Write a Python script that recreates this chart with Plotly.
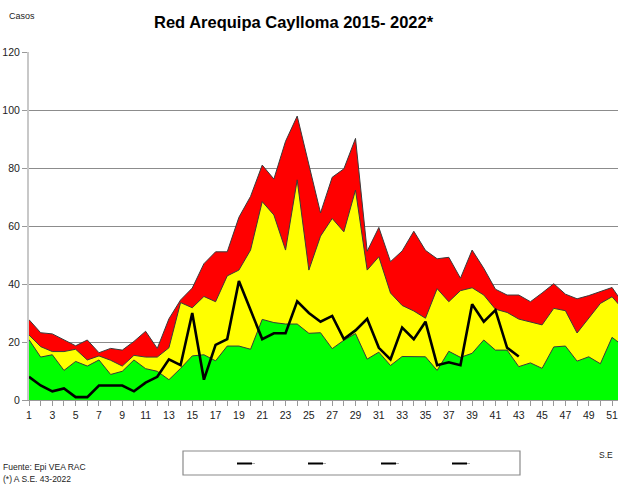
import plotly.graph_objects as go

weeks = list(range(1, 53))

# Endemic channel bands (upper limits), cases per epidemiological week
exito = [20.8, 14.8, 15.6, 10.2, 13.3, 11.7, 13.8, 8.8, 9.9, 13.8, 10.8, 9.9, 7.0,
         10.9, 15.2, 15.6, 13.5, 18.6, 18.6, 17.5, 27.8, 26.7, 26.2, 26.2, 23.0, 23.2,
         17.7, 20.6, 22.9, 14.1, 16.5, 11.9, 15.0, 14.9, 14.9, 10.2, 16.8, 14.7, 16.1,
         20.7, 17.2, 17.2, 11.5, 12.8, 10.9, 18.3, 18.6, 13.4, 14.9, 12.5, 21.6, 18.5]
seguridad = [22.4, 18.4, 16.7, 16.7, 17.5, 13.8, 15.2, 13.7, 11.7, 15.4, 14.8, 14.8, 18.0,
             33.6, 31.8, 35.7, 33.9, 42.8, 44.8, 51.7, 68.4, 63.8, 51.7, 75.9, 44.8, 56.5,
             62.6, 58.0, 72.4, 44.8, 49.4, 36.9, 32.6, 30.7, 28.2, 38.4, 33.9, 37.7, 38.7,
             36.2, 31.3, 30.2, 27.9, 26.8, 25.9, 31.6, 30.8, 23.1, 28.2, 33.3, 35.6, 31.0]
alarma = [27.7, 23.2, 22.8, 20.8, 18.7, 20.7, 16.3, 17.8, 17.2, 20.2, 23.7, 17.8, 28.0,
          34.5, 38.6, 47.0, 51.1, 51.1, 63.0, 70.2, 81.0, 76.2, 89.2, 97.9, 81.6, 64.5,
          76.8, 79.7, 90.2, 51.3, 59.5, 47.7, 51.4, 58.2, 51.6, 48.7, 49.2, 42.0, 51.7,
          45.4, 38.2, 36.2, 36.2, 33.9, 36.9, 40.1, 36.5, 34.9, 36.0, 37.4, 38.8, 33.0]
weeks_2022 = list(range(1, 44))
casos_2022 = [8, 5, 3, 4, 1, 1, 5, 5, 5, 3, 6, 8, 14, 12, 30, 7, 19, 21, 41, 31, 21,
              23, 23, 34, 30, 27, 29, 21, 24, 28, 18, 14, 25, 21, 27, 12, 13, 12, 33,
              27, 31, 18, 15]

y_ticks = [0, 20, 40, 60, 80, 100, 120]
x_ticktext = [str(w) if w % 2 == 1 else "" for w in weeks]

FONT = "Liberation Sans, Arial, sans-serif"
W, H = 618, 485
ML, MR, MT, MB = 29, 0, 52, 85
PW = W - ML - MR
PH = H - MT - MB

def px(xpix):
    return (xpix - ML) / PW

def py(ypix):
    return (H - MB - ypix) / PH

fig = go.Figure()
outline = dict(color="#3a3a3a", width=1)
fig.add_trace(go.Scatter(x=weeks, y=alarma, mode="lines", fill="tozeroy",
                         fillcolor="#FF0000", line=outline, name="Alarma"))
fig.add_trace(go.Scatter(x=weeks, y=seguridad, mode="lines", fill="tozeroy",
                         fillcolor="#FFFF00", line=outline, name="Seguridad"))
fig.add_trace(go.Scatter(x=weeks, y=exito, mode="lines", fill="tozeroy",
                         fillcolor="#00FF00", line=outline, name="Éxito"))
fig.add_trace(go.Scatter(x=weeks_2022, y=casos_2022, mode="lines",
                         line=dict(color="#000000", width=2.6), name="2022"))

shapes = []
# legend box
shapes.append(dict(type="rect", xref="paper", yref="paper",
                   x0=px(183), x1=px(520), y0=py(475), y1=py(451),
                   line=dict(color="#8a8a8a", width=1.2), fillcolor="white"))
for xs in [237, 308, 381, 452]:
    shapes.append(dict(type="line", xref="paper", yref="paper",
                       x0=px(xs), x1=px(xs + 15), y0=py(463.5), y1=py(463.5),
                       line=dict(color="#000000", width=2)))
    shapes.append(dict(type="line", xref="paper", yref="paper",
                       x0=px(xs + 15), x1=px(xs + 18), y0=py(463.5), y1=py(463.5),
                       line=dict(color="#aaaaaa", width=1)))

annotations = [
    dict(text="<b>Red Arequipa Caylloma 2015- 2022*</b>", xref="paper", yref="paper",
         x=px(294), y=py(22), xanchor="center", yanchor="middle", showarrow=False,
         font=dict(family=FONT, size=16.5, color="#000000")),
    dict(text="Casos", xref="paper", yref="paper", x=px(7), y=py(16),
         xanchor="left", yanchor="middle", showarrow=False,
         font=dict(family=FONT, size=9, color="#222222")),
    dict(text="Fuente: Epi VEA RAC", xref="paper", yref="paper", x=px(1), y=py(466.5),
         xanchor="left", yanchor="middle", showarrow=False,
         font=dict(family=FONT, size=8.5, color="#222222")),
    dict(text="(*) A S.E. 43-2022", xref="paper", yref="paper", x=px(1), y=py(478.5),
         xanchor="left", yanchor="middle", showarrow=False,
         font=dict(family=FONT, size=8.5, color="#222222")),
    dict(text="S.E", xref="paper", yref="paper", x=px(597), y=py(455),
         xanchor="left", yanchor="middle", showarrow=False,
         font=dict(family=FONT, size=8.5, color="#222222")),
]

fig.update_layout(
    width=W, height=H,
    margin=dict(l=ML, r=MR, t=MT, b=MB, pad=0),
    paper_bgcolor="white", plot_bgcolor="white",
    showlegend=False,
    shapes=shapes, annotations=annotations,
    font=dict(family=FONT, size=11, color="#222222"),
)
fig.update_xaxes(range=[1, 51.51], tickmode="array", tickvals=weeks, ticktext=x_ticktext,
                 ticks="outside", ticklen=5, tickcolor="#999999", showgrid=False,
                 showline=True, linecolor="#999999", linewidth=1, zeroline=False,
                 ticklabeloverflow="allow",
                 tickfont=dict(family=FONT, size=10.5, color="#222222"))
fig.update_yaxes(range=[0, 120], tickmode="array", tickvals=y_ticks,
                 ticks="outside", ticklen=5, tickcolor="#999999",
                 showgrid=True, gridcolor="#8c8c8c", gridwidth=1,
                 showline=True, linecolor="#c8c8c8", linewidth=2, zeroline=False,
                 tickfont=dict(family=FONT, size=10.5, color="#222222"))

fig.write_html("out.html",
               config={"displayModeBar": False},
               post_script="document.body.style.margin='0';document.body.style.overflow='hidden';")
